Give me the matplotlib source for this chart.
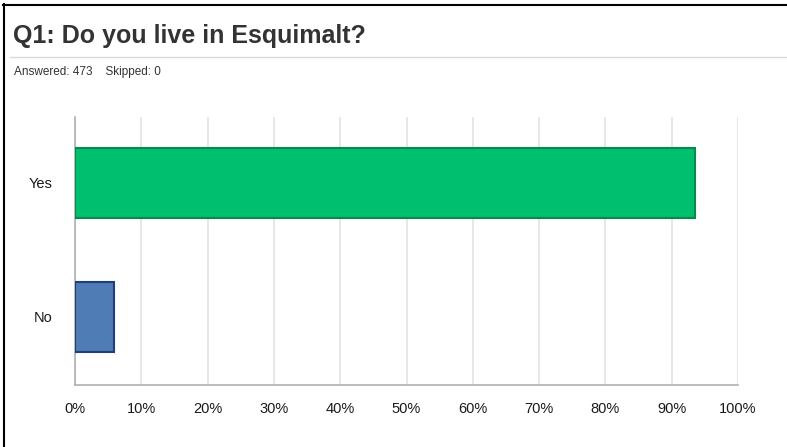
import matplotlib.pyplot as plt
from matplotlib.lines import Line2D

plt.rcParams['font.family'] = ['Liberation Sans', 'DejaVu Sans']

# survey data
categories = ['Yes', 'No']
percents = [93.45, 5.9]
bar_colors = ['#00bf6f', '#507cb6']
edge_colors = ['#0a8a4a', '#1f3f7a']
ticks = [0, 10, 20, 30, 40, 50, 60, 70, 80, 90, 100]
tick_labels = [f'{t}%' for t in ticks]

W, H = 787, 447
fig = plt.figure(figsize=(W / 100, H / 100), dpi=100)

# frame lines (left and top only) and header separator
fig.add_artist(Line2D([3.5 / W, 3.5 / W], [0, 1 - 4 / H], color='black', lw=1.5))
fig.add_artist(Line2D([3 / W, 1], [1 - 4.5 / H, 1 - 4.5 / H], color='black', lw=1.5))
fig.add_artist(Line2D([10 / W, 1], [1 - 57 / H, 1 - 57 / H], color='#d9d9d9', lw=1))

fig.text(13 / W, 1 - 36 / H, 'Q1: Do you live in Esquimalt?', fontsize=18,
         fontweight='bold', color='#333333', va='center', ha='left')
fig.text(14 / W, 1 - 72 / H, 'Answered: 473    Skipped: 0', fontsize=8.5,
         color='#333333', va='center', ha='left')

left, right = 75 / W, 738 / W
top, bottom = 1 - 117 / H, 1 - 385 / H
ax = fig.add_axes([left, bottom, right - left, top - bottom])

ypos = list(range(len(categories)))
ax.barh(ypos, percents, height=0.52, color=bar_colors, edgecolor=edge_colors,
        linewidth=1.5, zorder=3)

ax.set_xlim(0, 100)
ax.set_ylim(1.507, -0.49)
ax.set_xticks(ticks)
ax.set_xticklabels(tick_labels)
ax.set_yticks(ypos)
ax.set_yticklabels(categories)
ax.tick_params(axis='both', length=0, labelsize=10.5, labelcolor='#1a1a1a')
ax.tick_params(axis='x', pad=12)
ax.tick_params(axis='y', pad=16)
ax.grid(axis='x', color='#e3e3e3', lw=1.2, zorder=0)
for s in ['top', 'right']:
    ax.spines[s].set_visible(False)
for s in ['left', 'bottom']:
    ax.spines[s].set_color('#b0b0b0')
    ax.spines[s].set_linewidth(1.2)

fig.savefig('out.png', dpi=100)
